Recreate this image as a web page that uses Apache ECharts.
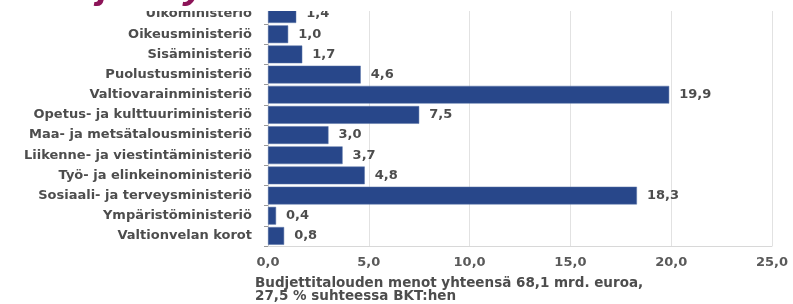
<!DOCTYPE html>
<html>
<head>
<meta charset="utf-8">
<script src="https://cdn.jsdelivr.net/npm/echarts@6/dist/echarts.min.js"></script>
<style>
  html, body { margin: 0; padding: 0; background: #fff; }
  #chart { width: 793px; height: 304px; }
</style>
</head>
<body>
<div id="chart"></div>
<script>
// hallinnonalat, ylhäältä alas
var ministeriot = [
  'Ulkoministeriö', 'Oikeusministeriö', 'Sisäministeriö', 'Puolustusministeriö',
  'Valtiovarainministeriö', 'Opetus- ja kulttuuriministeriö', 'Maa- ja metsätalousministeriö',
  'Liikenne- ja viestintäministeriö', 'Työ- ja elinkeinoministeriö',
  'Sosiaali- ja terveysministeriö', 'Ympäristöministeriö', 'Valtionvelan korot'
];
var menot = [1.4, 1.0, 1.7, 4.6, 19.9, 7.5, 3.0, 3.7, 4.8, 18.3, 0.4, 0.8]; // mrd. euroa
var alaviite = ['Budjettitalouden menot yhteensä 68,1 mrd. euroa,', '27,5 % suhteessa BKT:hen'];

function pilkku(v) { return v.toFixed(1).replace('.', ','); }

var myChart = echarts.init(document.getElementById('chart'));
var font = 'DejaVu Sans, sans-serif';
var teksti = '#4d4d4d';

var option = {
  animation: false,
  grid: { left: 268, right: 21, top: 4, bottom: 58 },
  xAxis: {
    type: 'value',
    min: 0, max: 25, interval: 5,
    axisLine: { show: true, lineStyle: { color: '#d8d8d8' } },
    axisTick: { show: false },
    splitLine: { show: true, lineStyle: { color: '#e2e2e2' } },
    axisLabel: {
      color: '#5a5a5a', fontFamily: font, fontWeight: 'bold', fontSize: 13, margin: 10,
      formatter: function (v) { return pilkku(v); }
    }
  },
  yAxis: {
    type: 'category',
    inverse: true,
    data: ministeriot,
    axisLine: { show: true, lineStyle: { color: '#d0d0d0' } },
    axisTick: { show: true, length: 4, lineStyle: { color: '#999' } },
    axisLabel: { color: teksti, fontFamily: font, fontWeight: 'bold', fontSize: 13, margin: 16 }
  },
  series: [{
    type: 'bar',
    data: menot,
    barCategoryGap: '12%',
    itemStyle: { color: '#28478a', borderColor: '#5a74a8', borderWidth: 0.5 },
    label: {
      show: true, position: 'right', distance: 10,
      color: teksti, fontFamily: font, fontWeight: 'bold', fontSize: 13,
      formatter: function (p) { return pilkku(p.value); }
    }
  }],
  graphic: [
    { type: 'rect', left: 0, top: 0, z: 100, shape: { width: 793, height: 11 }, style: { fill: '#fff' } },
    { type: 'text', x: 98, y: -33, z: 101,
      style: { text: 'j', fill: '#8c1458', font: 'italic bold 40px Liberation Sans, Arial' } },
    { type: 'text', x: 184, y: -33, z: 101,
      style: { text: 'y', fill: '#8c1458', font: 'italic bold 40px Liberation Sans, Arial' } },
    { type: 'text', left: 255, top: 276, z: 101,
      style: { text: alaviite.join('\n'), fill: teksti, font: 'bold 13.5px DejaVu Sans', lineHeight: 13 } }
  ]
};

myChart.setOption(option, true);
</script>
</body>
</html>
